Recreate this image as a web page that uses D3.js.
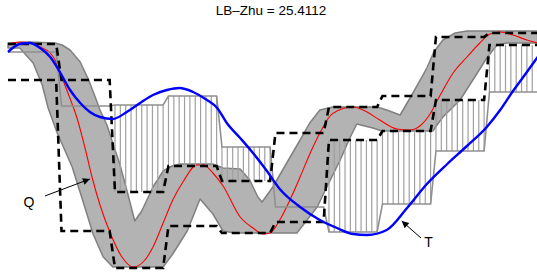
<!DOCTYPE html>
<html><head><meta charset="utf-8">
<script src="https://cdn.jsdelivr.net/npm/d3@7"></script>
<style>body{margin:0;background:#fff} svg{display:block}</style>
</head><body>
<script>
// ---- data (x = sample index 0..99, value in arbitrary units) ----
const titleText = "LB\u2013Zhu = 25.4112";
const segmentLength = 10;
const sampleCount = 100;

// query Q (red)
const queryQ = [[0,2.12],[2.2,2.16],[4.1,2.14],[6.0,2.06],[7.9,1.94],[8.8,1.80],[9.7,1.56],[11.2,1.14],[12.9,0.64],[14.4,0.04],[15.7,-0.54],[17.2,-1.10],[19.1,-1.66],[21.3,-2.14],[23.4,-2.34],[25.6,-2.20],[27.1,-1.94],[29.0,-1.46],[30.8,-1.00],[32.7,-0.64],[35.3,-0.30],[36.5,-0.30],[38.3,-0.46],[40.2,-0.72],[43.4,-1.34],[45.8,-1.56],[47.7,-1.68],[49.0,-1.66],[50.8,-1.40],[52.7,-1.00],[54.6,-0.54],[56.5,-0.06],[58.3,0.34],[60.2,0.68],[61.5,0.78],[64.5,0.86],[67.1,0.76],[69.5,0.60],[72.7,0.42],[75.1,0.40],[77.0,0.48],[78.9,0.72],[80.8,1.10],[83.2,1.54],[85.8,1.86],[88.2,2.14],[90.1,2.32],[92.0,2.36],[94.4,2.30],[97.0,2.20],[99,2.14]];

// candidate T (blue)
const candidateT = [[0,1.96],[2.2,2.12],[4.1,2.14],[6.0,2.04],[7.9,1.86],[9.7,1.56],[11.6,1.20],[13.5,0.94],[15.3,0.76],[17.2,0.66],[19.6,0.62],[22.2,0.76],[24.7,0.94],[27.1,1.10],[29.7,1.20],[32.1,1.24],[34.6,1.16],[37.2,1.00],[39.1,0.84],[40.9,0.54],[43.4,0.24],[45.8,-0.06],[48.4,-0.42],[50.8,-0.78],[54.6,-1.14],[58.3,-1.40],[61.5,-1.56],[64.5,-1.68],[67.1,-1.70],[70.8,-1.60],[74.6,-1.16],[78.3,-0.68],[82.1,-0.28],[85.8,0.08],[89.5,0.46],[92.0,0.80],[94.4,1.18],[97.0,1.56],[99,1.86]];

// envelope of Q
const upperEnvelope = [[0,2.14],[4.1,2.16],[8.8,2.14],[10.1,2.10],[11.6,2.00],[13.5,1.76],[15.0,1.42],[16.3,1.06],[17.2,0.80],[18.5,0.50],[19.4,0.20],[20.9,-0.28],[22.4,-0.88],[23.7,-1.42],[25.0,-1.22],[27.1,-0.74],[29.0,-0.42],[30.7,-0.32],[32.1,-0.28],[38.3,-0.28],[40.2,-0.36],[43.4,-0.38],[45.2,-0.60],[46.7,-0.94],[47.5,-1.04],[49.5,-0.74],[52.1,-0.26],[54.6,0.20],[56.4,0.54],[58.3,0.80],[60.7,0.86],[69.0,0.86],[70.8,0.80],[73.3,0.70],[75.7,1.14],[78.3,1.64],[79.6,1.96],[81.3,2.20],[83.6,2.34],[85.8,2.38],[99,2.38]];
const lowerEnvelope = [[0,2.04],[2.2,2.04],[4.7,1.74],[6.4,1.30],[7.5,0.84],[9.2,0.34],[12.0,-0.34],[14.0,-1.02],[15.9,-1.68],[17.8,-2.14],[19.6,-2.34],[29.0,-2.34],[30.8,-2.08],[33.5,-1.62],[35.9,-0.98],[38.3,-1.28],[40.2,-1.62],[42.4,-1.66],[54.0,-1.66],[55.9,-1.40],[57.8,-1.14],[59.6,-0.74],[62.1,-0.20],[63.9,0.24],[65.2,0.52],[68.2,0.44],[69.9,0.38],[79.4,0.38],[81.3,0.66],[84.5,1.00],[86.9,1.40],[89.5,1.84],[91.4,2.10],[93.3,2.14],[99,2.14]];

// PAA (one value per segment)
const upperPAA = [2.12, 1.40, -0.84, -0.32, -0.62, 0.34, 0.86, 1.08, 2.26, 2.34];
const lowerPAA = [1.40, -1.62, -2.36, -1.52, -1.66, -1.44, 0.20, 0.38, 1.00, 2.10];
const candidatePAA = [1.96, 0.88, 0.90, 1.08, 0.06, -1.14, -1.64, -1.08, -0.02, 1.16];

// annotations (data coordinates)
const annotations = [
  {label:"Q", text:[3.9,-1.14], tail:[6.9,-0.92], tip:[15.3,-0.58]},
  {label:"T", text:[78.6,-1.94], tail:[77.2,-1.76], tip:[73.6,-1.42]}
];

// ---- drawing ----
const W = 537, H = 274;
const x = d3.scaleLinear().domain([0, 99]).range([8, 537.6]);
const y = d3.scaleLinear().domain([-2.5, 2.5]).range([275, 25]);

const svg = d3.select("body").append("svg").attr("width", W).attr("height", H)
  .style("background", "#fff");

const defs = svg.append("defs");
defs.append("marker").attr("id","ah").attr("viewBox","0 0 10 10")
  .attr("refX",10).attr("refY",5).attr("markerWidth",9).attr("markerHeight",7)
  .attr("markerUnits","userSpaceOnUse").attr("orient","auto")
  .append("path").attr("d","M0,0L10,5L0,10Z").attr("fill","#000");

const line = d3.line().x(d => x(d[0])).y(d => y(d[1]));
const smooth = d3.line().x(d => x(d[0])).y(d => y(d[1])).curve(d3.curveMonotoneX);

// band
const bandPts = upperEnvelope.concat(lowerEnvelope.slice().reverse());
svg.append("path").attr("d", line(bandPts) + "Z")
  .attr("fill", "#b3b3b3").attr("stroke", "#808080").attr("stroke-width", 1.5)
  .attr("stroke-linejoin","round");

// query
svg.append("path").attr("d", smooth(queryQ)).attr("fill","none")
  .attr("stroke","#ff0000").attr("stroke-width",1.1);

// hatching
const samples = d3.range(sampleCount);
const hatch = [];
samples.forEach(i => {
  const k = Math.floor(i / segmentLength);
  if (candidatePAA[k] > upperPAA[k]) hatch.push([i, upperPAA[k], candidatePAA[k]]);
  else if (candidatePAA[k] < lowerPAA[k]) hatch.push([i, lowerPAA[k], candidatePAA[k]]);
});
svg.append("g").selectAll("line").data(hatch).join("line")
  .attr("x1", d => x(d[0])).attr("x2", d => x(d[0]))
  .attr("y1", d => y(d[1])).attr("y2", d => y(d[2]))
  .attr("stroke","#a0a0a0").attr("stroke-width",1.2);

const stepPts = arr => samples.map(i => [i, arr[Math.floor(i / segmentLength)]]);

// candidate PAA step
svg.append("path").attr("d", line(stepPts(candidatePAA))).attr("fill","none")
  .attr("stroke","#909090").attr("stroke-width",1.6);

// envelope PAA dashed
[upperPAA, lowerPAA].forEach(arr => {
  svg.append("path").attr("d", line(stepPts(arr))).attr("fill","none")
    .attr("stroke","#000").attr("stroke-width",2.6).attr("stroke-dasharray","8,5");
});

// candidate
svg.append("path").attr("d", smooth(candidateT)).attr("fill","none")
  .attr("stroke","#0000ff").attr("stroke-width",2.4);

// annotations
annotations.forEach(a => {
  svg.append("line").attr("x1", x(a.tail[0])).attr("y1", y(a.tail[1]))
    .attr("x2", x(a.tip[0])).attr("y2", y(a.tip[1]))
    .attr("stroke","#000").attr("stroke-width",1).attr("marker-end","url(#ah)");
  svg.append("text").attr("x", x(a.text[0])).attr("y", y(a.text[1]))
    .attr("text-anchor","middle").attr("font-family","Liberation Sans, Arial, sans-serif")
    .attr("font-size",14).text(a.label);
});

svg.append("text").attr("x", 271).attr("y", 15).attr("text-anchor","middle")
  .attr("font-family","Liberation Sans, Arial, sans-serif").attr("font-size",13.5)
  .text(titleText);
</script>
</body></html>
